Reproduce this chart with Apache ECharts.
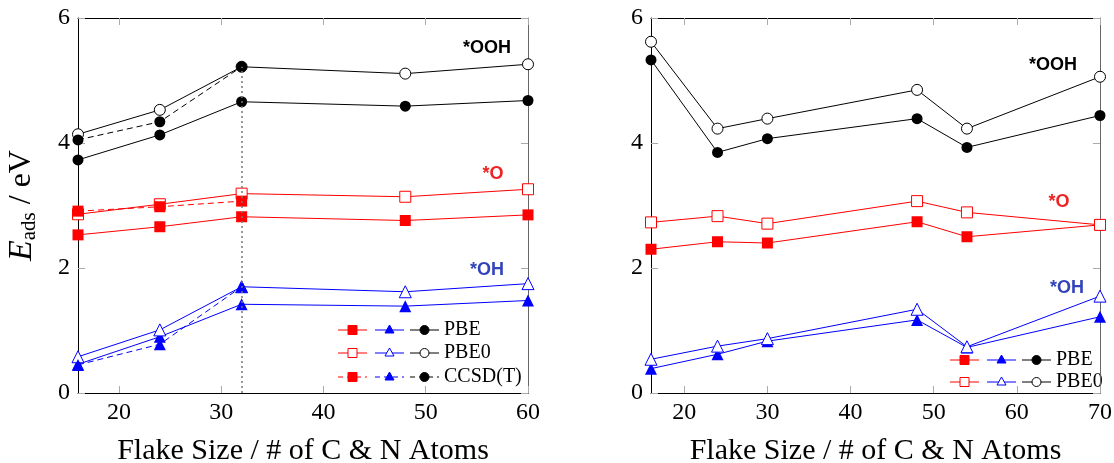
<!DOCTYPE html>
<html><head><meta charset="utf-8">
<script src="https://cdn.jsdelivr.net/npm/echarts@6/dist/echarts.min.js"></script>
<style>html,body{margin:0;padding:0;background:#fff}#c{width:1114px;height:463px}</style>
</head><body><div id="c"></div>
<script>
// ---- data ----
const xLeft = [16, 24, 32, 48, 60];
const xLeftCC = [16, 24, 32];
const xRight = [16, 24, 30, 48, 54, 70];
const xTicksLeft = [20, 30, 40, 50, 60];
const xTicksRight = [20, 30, 40, 50, 60, 70];
const yTicks = [0, 2, 4, 6];

const leftOOH_PBE  = [3.73, 4.13, 4.66, 4.59, 4.68];
const leftOOH_PBE0 = [4.14, 4.53, 5.22, 5.11, 5.26];
const leftOOH_CC   = [4.05, 4.34, 5.22];
const leftO_PBE    = [2.53, 2.66, 2.82, 2.76, 2.85];
const leftO_PBE0   = [2.86, 3.02, 3.19, 3.14, 3.26];
const leftO_CC     = [2.91, 2.98, 3.07];
const leftOH_PBE   = [0.46, 0.90, 1.42, 1.39, 1.48];
const leftOH_PBE0  = [0.58, 1.01, 1.70, 1.62, 1.75];
const leftOH_CC    = [0.45, 0.78, 1.70];

const rightOOH_PBE  = [5.33, 3.85, 4.07, 4.39, 3.93, 4.44];
const rightOOH_PBE0 = [5.62, 4.23, 4.39, 4.85, 4.23, 5.06];
const rightO_PBE    = [2.30, 2.42, 2.40, 2.74, 2.50, 2.69];
const rightO_PBE0   = [2.73, 2.83, 2.71, 3.07, 2.89, 2.69];
const rightOH_PBE   = [0.39, 0.62, 0.83, 1.17, 0.73, 1.22];
const rightOH_PBE0  = [0.54, 0.75, 0.87, 1.34, 0.74, 1.55];

const dottedX = 32;
const axisTitle = 'Flake Size / # of C & N Atoms';

// ---- styling helpers ----
const RED = '#ff0000', BLUE = '#0000ff', BLACK = '#000000';
const serif = 'Liberation Serif';

function pts(xs, ys) { return xs.map((x, i) => [x, ys[i]]); }

function ser(name, grid, xs, ys, color, sym, open, dashed, z) {
  const size = sym === 'circle' ? 11 : (sym === 'rect' ? 11 : 12);
  return {
    name, type: 'line', xAxisIndex: grid * 2, yAxisIndex: grid * 2,
    data: pts(xs, ys), symbol: sym === 'tri' ? 'triangle' : sym, symbolSize: size,
    showSymbol: true, animation: false, z: z || 2,
    lineStyle: { color, width: 1, type: dashed ? [6, 4] : 'solid' },
    itemStyle: { color: open ? '#ffffff' : color, borderColor: color, borderWidth: open ? 1 : 0, opacity: 1 },
    emphasis: { disabled: true }
  };
}

function xAx(grid, min, max, ticks, top) {
  return {
    type: 'value', gridIndex: grid, min, max, position: top ? 'top' : 'bottom',
    name: top ? '' : axisTitle, nameLocation: 'middle', nameGap: 43,
    nameTextStyle: { fontFamily: serif, fontSize: 30, color: '#000' },
    axisLine: { show: true, onZero: false, lineStyle: { color: '#000', width: 1 } },
    axisTick: { show: true, inside: true, length: 7, customValues: ticks, lineStyle: { color: '#aaa' } },
    axisLabel: { show: !top, customValues: ticks, fontFamily: serif, fontSize: 24, color: '#000', margin: 8 },
    splitLine: { show: false }
  };
}
function yAx(grid, right, showName) {
  return {
    type: 'value', gridIndex: grid, min: 0, max: 6, interval: 2, position: right ? 'right' : 'left',
    name: showName ? '{e|E}{s|ads}{n| / eV}' : '', nameLocation: 'middle', nameGap: 38, nameRotate: 90,
    nameTextStyle: { rich: {
      e: { fontFamily: serif, fontStyle: 'italic', fontSize: 34, color: '#000' },
      s: { fontFamily: serif, fontSize: 21, color: '#000', verticalAlign: 'bottom', padding: [15, 0, 0, 0] },
      n: { fontFamily: serif, fontSize: 32, color: '#000' } } },
    axisLine: { show: true, onZero: false, lineStyle: { color: right ? '#666' : '#000', width: 1 } },
    axisTick: { show: true, inside: true, length: 7, lineStyle: { color: '#aaa' } },
    axisLabel: { show: !right, fontFamily: serif, fontSize: 24, color: '#000', margin: 8 },
    splitLine: { show: false }
  };
}

const series = [
  // left
  ser('L OOH PBE', 0, xLeft, leftOOH_PBE, BLACK, 'circle', false, false),
  ser('L OOH PBE0', 0, xLeft, leftOOH_PBE0, BLACK, 'circle', true, false),
  ser('L OOH CC', 0, xLeftCC, leftOOH_CC, BLACK, 'circle', false, true, 3),
  ser('L O PBE', 0, xLeft, leftO_PBE, RED, 'rect', false, false),
  ser('L O PBE0', 0, xLeft, leftO_PBE0, RED, 'rect', true, false),
  ser('L O CC', 0, xLeftCC, leftO_CC, RED, 'rect', false, true, 3),
  ser('L OH PBE', 0, xLeft, leftOH_PBE, BLUE, 'tri', false, false),
  ser('L OH PBE0', 0, xLeft, leftOH_PBE0, BLUE, 'tri', true, false),
  ser('L OH CC', 0, xLeftCC, leftOH_CC, BLUE, 'tri', false, true, 3),
  // right
  ser('R OOH PBE', 1, xRight, rightOOH_PBE, BLACK, 'circle', false, false),
  ser('R OOH PBE0', 1, xRight, rightOOH_PBE0, BLACK, 'circle', true, false),
  ser('R O PBE', 1, xRight, rightO_PBE, RED, 'rect', false, false),
  ser('R O PBE0', 1, xRight, rightO_PBE0, RED, 'rect', true, false, 3),
  ser('R OH PBE', 1, xRight, rightOH_PBE, BLUE, 'tri', false, false),
  ser('R OH PBE0', 1, xRight, rightOH_PBE0, BLUE, 'tri', true, false),
];
// dotted vertical line at x = 32 up to CCSD(T) *OOH point
series[0].markLine = {
  silent: true, symbol: 'none', animation: false, label: { show: false },
  lineStyle: { color: '#777', type: [2, 3], width: 1.5 },
  data: [[{ coord: [dottedX, 0] }, { coord: [dottedX, leftOOH_CC[xLeftCC.indexOf(dottedX)]] }]]
};

// ---- legend drawn with graphic primitives ----
function legendRow(x0, y, label, kind) {
  const els = [];
  const groups = [[RED, 'rect'], [BLUE, 'tri'], [BLACK, 'circle']];
  const starts = [0, 37, 72];
  groups.forEach((g, i) => {
    const [c, m] = g;
    const sx = x0 + starts[i], w = 29, cx = sx + w / 2;
    const dash = kind === 'cc' ? [5, 4] : null;
    els.push({ type: 'line', shape: { x1: sx, y1: y, x2: sx + w, y2: y }, style: { stroke: c, lineWidth: 1, lineDash: dash } });
    const fill = kind === 'open' ? '#fff' : c;
    if (m === 'rect') els.push({ type: 'rect', shape: { x: cx - 4.5, y: y - 4.5, width: 9, height: 9 }, style: { fill, stroke: c, lineWidth: 1 } });
    if (m === 'tri') els.push({ type: 'polygon', shape: { points: [[cx, y - 5], [cx + 4.5, y + 3], [cx - 4.5, y + 3]] }, style: { fill, stroke: c, lineWidth: 1 } });
    if (m === 'circle') els.push({ type: 'circle', shape: { cx, cy: y, r: 4.5 }, style: { fill, stroke: c, lineWidth: 1 } });
  });
  els.push({ type: 'text', x: x0 + 106, y, style: { text: label, font: '20px "Liberation Serif"', fill: '#000', verticalAlign: 'middle', align: 'left' } });
  return els;
}
function tag(x, y, text, color) {
  return { type: 'text', x, y, style: { text, font: 'bold 18px "Liberation Sans"', fill: color, align: 'center', verticalAlign: 'middle' } };
}

const graphics = [].concat(
  legendRow(338, 330, 'PBE', 'fill'),
  legendRow(338, 353, 'PBE0', 'open'),
  legendRow(338, 377, 'CCSD(T)', 'cc'),
  legendRow(950, 360, 'PBE', 'fill'),
  legendRow(950, 382, 'PBE0', 'open'),
  [tag(487, 48, '*OOH', '#000'), tag(493, 174, '*O', '#ee2222'), tag(487, 270, '*OH', '#3344bb'),
   tag(1053, 65, '*OOH', '#000'), tag(1059, 202, '*O', '#ee2222'), tag(1067, 288, '*OH', '#3344bb')]
);

const chart = echarts.init(document.getElementById('c'), null, { renderer: 'canvas' });
chart.setOption({
  animation: false,
  backgroundColor: '#fff',
  grid: [
    { left: 78, right: 586, top: 18, bottom: 70, outerBoundsMode: 'none', containLabel: false },
    { left: 651, right: 14, top: 18, bottom: 70, outerBoundsMode: 'none', containLabel: false }
  ],
  xAxis: [
    xAx(0, 16, 60, xTicksLeft, false), xAx(0, 16, 60, xTicksLeft, true),
    xAx(1, 16, 70, xTicksRight, false), xAx(1, 16, 70, xTicksRight, true)
  ],
  yAxis: [
    yAx(0, false, true), yAx(0, true, false),
    yAx(1, false, false), yAx(1, true, false)
  ],
  series,
  graphic: graphics
});
</script></body></html>
